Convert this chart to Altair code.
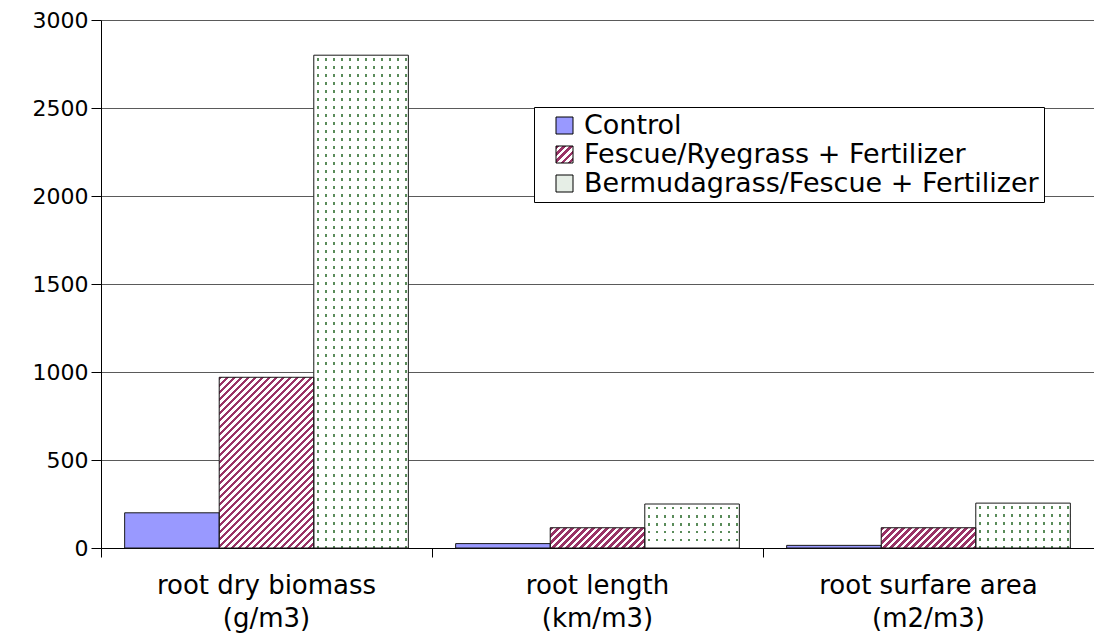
import json
import altair as alt
import pandas as pd

# ---------------- data ----------------
categories = ["root dry biomass|(g/m3)", "root length|(km/m3)", "root surfare area|(m2/m3)"]
series = ["Control", "Fescue/Ryegrass + Fertilizer", "Bermudagrass/Fescue + Fertilizer"]
control = [200, 25, 15]
fescue = [970, 115, 115]
bermuda = [2800, 250, 255]
y_ticks = [0, 500, 1000, 1500, 2000, 2500, 3000]

rows = []
for vals, s in zip([control, fescue, bermuda], series):
    for c, v in zip(categories, vals):
        rows.append({"cat": c, "series": s, "value": v})
df = pd.DataFrame(rows)

# ---------------- layout / style ----------------
PLOT_W, PLOT_H = 993, 528
Y_MAX = 3000
BAND = PLOT_W / len(categories)
BAR_W = BAND / 3.5
FONT = "DejaVu Sans"
BLUE = "#9999ff"
MAROON = "#993366"
GREEN = "#5a8c5a"
WHITE = "#ffffff"
CLEAR = "rgba(255,255,255,0)"


def r(x):
    return round(max(0.0, min(1.0, x)), 5)


def stripe_grad(w, h, period=7.0):
    """45-degree '/' hatch inside a w x h box (objectBoundingBox units)."""
    total = w + h
    c = total / (w * w + h * h)
    stops = []
    s = 0.0
    while s < total:
        a, b, e = r(s / total), r((s + period / 2) / total), r((s + period) / total)
        stops += [{"offset": a, "color": MAROON}, {"offset": b, "color": MAROON},
                  {"offset": b, "color": WHITE}, {"offset": e, "color": WHITE}]
        s += period
    return {"gradient": "linear", "x1": 0, "y1": 0, "x2": round(w * c, 5),
            "y2": round(h * c, 5), "stops": stops}


def rows_grad(h, period=8.0, thick=2.5, start=3.0):
    stops = [{"offset": 0, "color": WHITE}]
    y = start
    while y < h - 1:
        a, b = r(y / h), r((y + thick) / h)
        stops += [{"offset": a, "color": WHITE}, {"offset": a, "color": GREEN},
                  {"offset": b, "color": GREEN}, {"offset": b, "color": WHITE}]
        y += period
    stops.append({"offset": 1, "color": WHITE})
    return {"gradient": "linear", "x1": 0, "y1": 0, "x2": 0, "y2": 1, "stops": stops}


def mask_grad(w, period=8.0, gap=2.5, start=3.0):
    stops = [{"offset": 0, "color": WHITE}]
    x = start
    while x < w - 1:
        a, b = r(x / w), r((x + gap) / w)
        stops += [{"offset": a, "color": WHITE}, {"offset": a, "color": CLEAR},
                  {"offset": b, "color": CLEAR}, {"offset": b, "color": WHITE}]
        x += period
    stops.append({"offset": 1, "color": WHITE})
    return {"gradient": "linear", "x1": 0, "y1": 0, "x2": 1, "y2": 0, "stops": stops}


def px(v):
    return v * PLOT_H / Y_MAX


fescue_cond = [{"test": "datum.cat === '%s'" % c, "value": stripe_grad(BAR_W, px(v))}
               for c, v in zip(categories, fescue)]
bermuda_cond = [{"test": "datum.cat === '%s'" % c, "value": rows_grad(px(v))}
                for c, v in zip(categories, bermuda)]

legend_stripe = stripe_grad(17, 17)

legend = alt.Legend(
    title=None, orient="none", legendX=433, legendY=87,
    strokeColor="#000000", fillColor="#ffffff", padding=5, cornerRadius=0,
    symbolType="square", symbolSize=289, symbolStrokeColor="#000000", symbolStrokeWidth=1,
    symbolOffset=12, labelOffset=6, rowPadding=1,
    labelFont=FONT, labelFontSize=27, labelColor="#000000", labelLimit=600,
)

x_enc = alt.X(
    "cat:N", sort=categories,
    scale=alt.Scale(domain=categories, paddingInner=0, paddingOuter=0),
    axis=alt.Axis(title=None, bandPosition=0, labelAngle=0,
                  labelExpr="split(datum.label, '|')", labelFont=FONT, labelFontSize=26,
                  labelLineHeight=33, labelPadding=15, labelColor="#000000", labelLimit=500,
                  tickSize=9, tickColor="#000000", domainColor="#000000", grid=False),
)
xo_enc = alt.XOffset("series:N", sort=series,
                     scale=alt.Scale(domain=series, paddingOuter=0.25, paddingInner=0))
y_enc = alt.Y(
    "value:Q", scale=alt.Scale(domain=[0, Y_MAX], nice=False),
    axis=alt.Axis(title=None, values=y_ticks, format="d", tickSize=10, tickColor="#000000",
                  domainColor="#000000", gridColor="#5a5a5a", gridWidth=1,
                  labelFont=FONT, labelFontSize=22, labelColor="#000000", labelPadding=3),
)

base = alt.Chart(df).encode(x=x_enc, xOffset=xo_enc, y=y_enc)

fill_range = [BLUE, alt.ExprRef(expr=json.dumps(legend_stripe)), "#e6eee6"]

solid = base.mark_bar().encode(
    fill=alt.Fill("series:N", sort=series,
                  scale=alt.Scale(domain=series, range=fill_range),
                  legend=legend)
)
hatch = base.transform_filter(alt.datum.series == series[1]).mark_bar().encode(
    fill=alt.FillValue(MAROON, condition=fescue_cond)
)
dots_rows = base.transform_filter(alt.datum.series == series[2]).mark_bar().encode(
    fill=alt.FillValue(WHITE, condition=bermuda_cond)
)
dots_mask = base.transform_filter(alt.datum.series == series[2]).mark_bar(fill=mask_grad(BAR_W))
outline = base.mark_bar(fillOpacity=0, stroke="#1a1a1a", strokeWidth=1)

chart = alt.layer(solid, hatch, dots_rows, dots_mask, outline).properties(
    width=PLOT_W, height=PLOT_H,
    padding={"left": 93, "top": 12, "right": 0, "bottom": 86},
    autosize=alt.AutoSizeParams(type="none"),
    background="#ffffff",
).configure_view(strokeWidth=0)

chart.save("out.html", embed_options={"renderer": "svg", "actions": False})
